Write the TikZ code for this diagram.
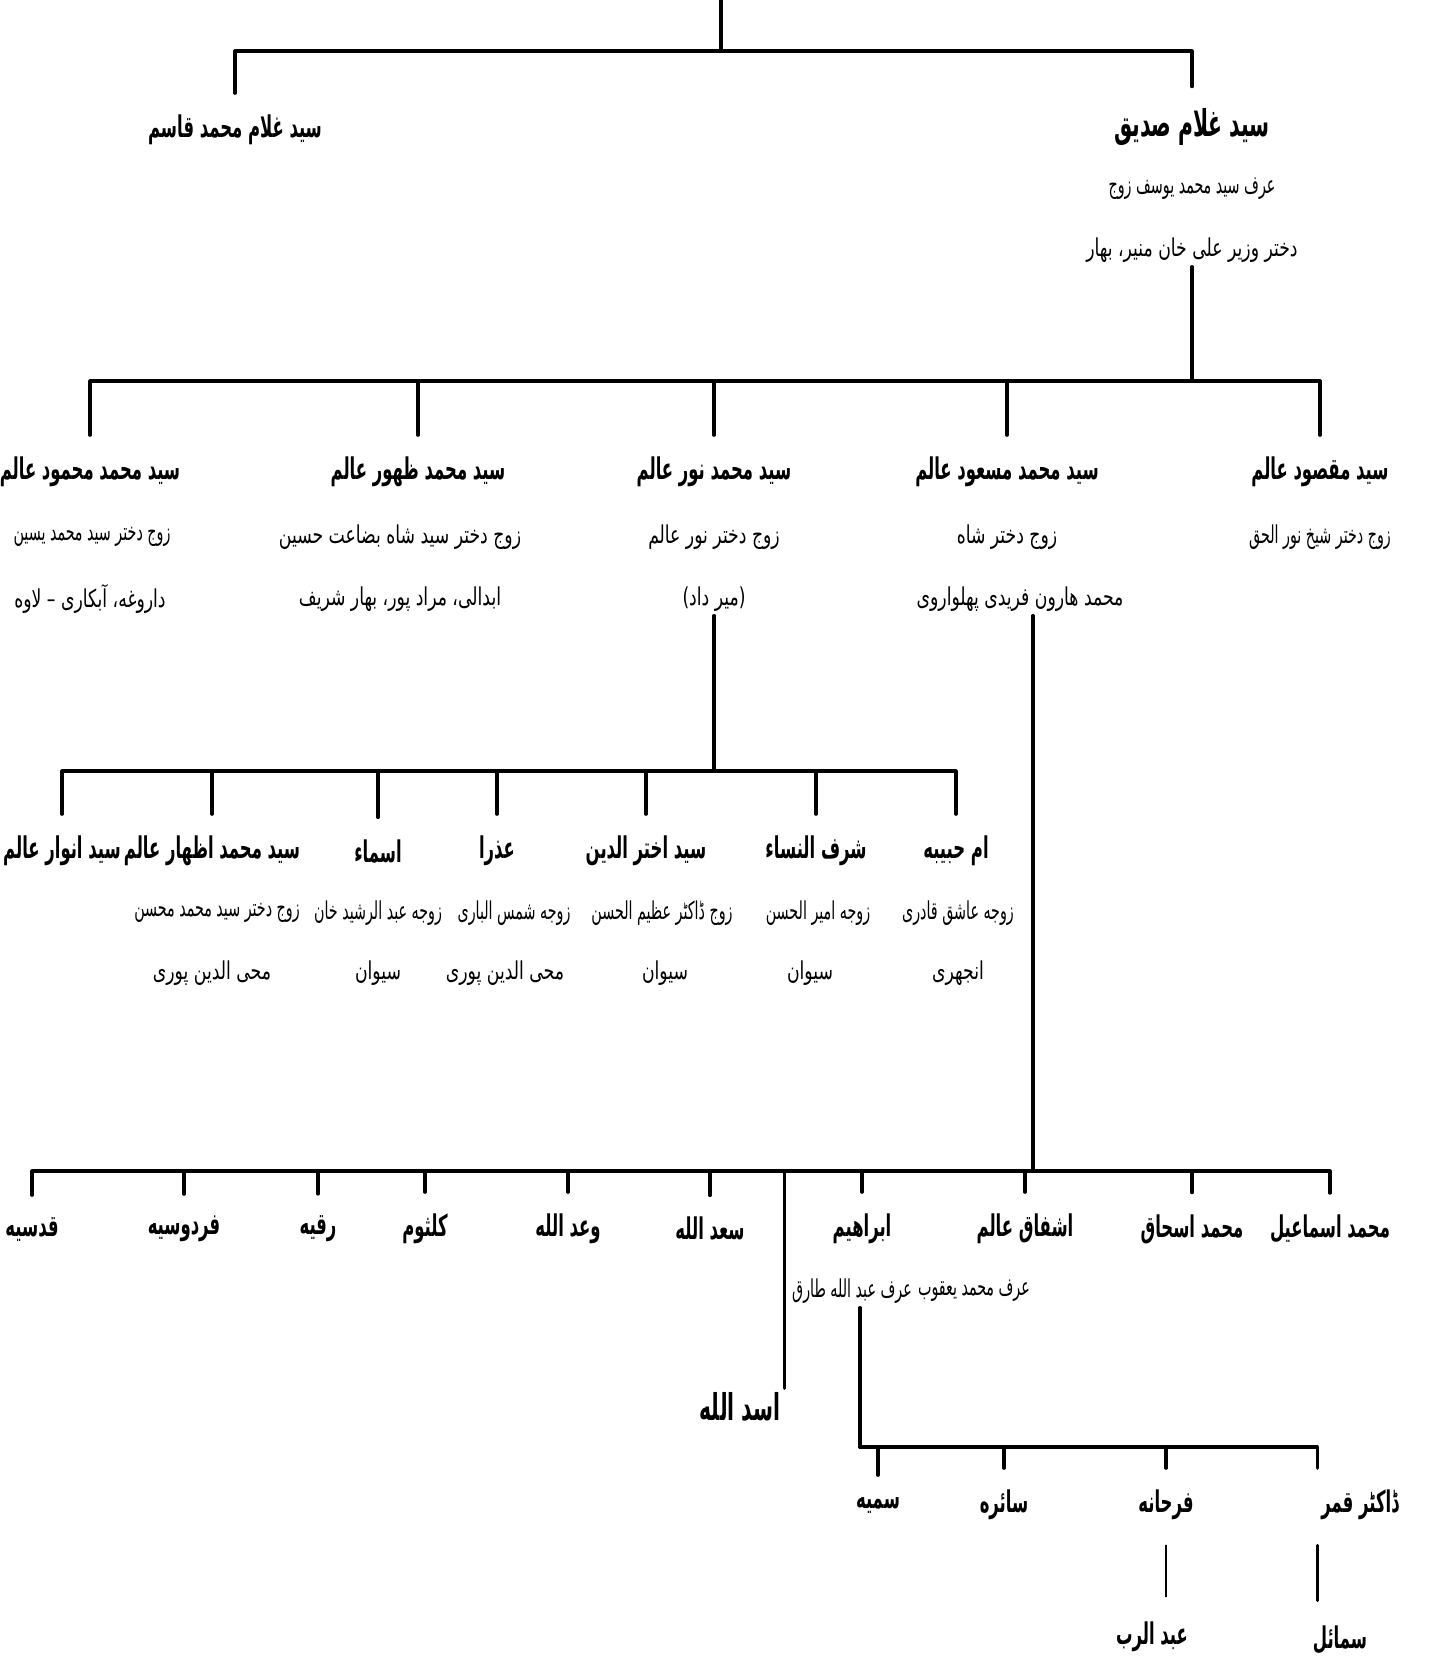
\documentclass[tikz,border=0pt]{standalone}
\usepackage{fontspec}
\usepackage{graphicx}
\newfontfamily\arabicfont[Script=Arabic]{DejaVu Sans}
\TeXXeTstate=1
\newcommand{\ur}[1]{\scalebox{0.7}[1]{\arabicfont\beginR #1\endR}}
\newcommand{\ut}[1]{\scalebox{0.58}[1]{\arabicfont\beginR #1\endR}}
\newcommand{\nm}[1]{\scalebox{0.55}[1]{\arabicfont\beginR #1\endR}}

\begin{document}
\begin{tikzpicture}[x=0.01cm,y=-0.01cm, line join=round, line cap=round,
  person/.style={inner sep=1pt, font=\fontsize{8.5}{10}\selectfont\bfseries},
  chief/.style={inner sep=1pt, font=\fontsize{10.5}{12}\selectfont\bfseries},
  info/.style={inner sep=1pt, font=\fontsize{7}{8}\selectfont},
  tree/.style={line width=0.9pt},
  kin/.style={tree, shorten >=5pt}]
\useasboundingbox (0,0) rectangle (1438,1662);
% generation 1
\node[person] (qasim) at (235,130) {\nm{سید غلام محمد قاسم}};
\node[chief] (siddiq) at (1192,127) {\nm{سید غلام صدیق}};
\node[info] (siddiq2) at (1192,189) {\ut{عرف سید محمد یوسف زوج}};
\node[info] (siddiq3) at (1192,250) {\ur{دختر وزیر علی خان منیر، بهار}};
\coordinate (root) at (721,0);
\coordinate (j0) at (721,51);
\draw[tree] (root) -- (j0);
\foreach \c in {qasim,siddiq} \draw[kin] (j0) -| (\c.north);
% generation 2
\node[person] (mahmood) at (90,472) {\nm{سید محمد محمود عالم}};
\node[info] (mahmood2) at (92,537) {\ut{زوج دختر سید محمد یسین}};
\node[info] (mahmood3) at (90,599) {\ur{داروغه، آبکاری – لاوه}};
\node[person] (zahoor) at (418,472) {\nm{سید محمد ظهور عالم}};
\node[info] (zahoor2) at (400,537) {\ur{زوج دختر سید شاه بضاعت حسین}};
\node[info] (zahoor3) at (400,599) {\ur{ابدالی، مراد پور، بهار شریف}};
\node[person] (noor) at (714,472) {\nm{سید محمد نور عالم}};
\node[info] (noor2) at (714,537) {\ur{زوج دختر نور عالم}};
\node[info] (noor3) at (714,599) {\ur{(میر داد)}};
\node[person] (masood) at (1007,472) {\nm{سید محمد مسعود عالم}};
\node[info] (masood2) at (1007,537) {\ur{زوج دختر شاه}};
\node[info] (masood3) at (1020,599) {\ur{محمد هارون فریدی پھلواروی}};
\node[person] (maqsood) at (1320,472) {\nm{سید مقصود عالم}};
\node[info] (maqsood2) at (1320,537) {\ut{زوج دختر شیخ نور الحق}};
\coordinate (j1) at (1192,381);
\draw[tree] (siddiq3.south) -- (j1);
\foreach \c in {mahmood,zahoor,noor,masood,maqsood} \draw[kin] (j1) -| (\c.north);
% generation 3
\node[person] (umm) at (956,851) {\nm{ام حبیبه}};
\node[info] (umm2) at (958,913) {\ut{زوجه عاشق قادری}};
\node[info] (umm3) at (958,973) {\ur{انجهری}};
\node[person] (sharf) at (816,851) {\nm{شرف النساء}};
\node[info] (sharf2) at (818,913) {\ut{زوجه امیر الحسن}};
\node[info] (sharf3) at (810,973) {\ur{سیوان}};
\node[person] (akhtar) at (646,851) {\nm{سید اختر الدین}};
\node[info] (akhtar2) at (662,913) {\ut{زوج ڈاکٹر عظیم الحسن}};
\node[info] (akhtar3) at (665,973) {\ur{سیوان}};
\node[person] (azra) at (497,851) {\nm{عذرا}};
\node[info] (azra2) at (514,913) {\ut{زوجه شمس الباری}};
\node[info] (azra3) at (505,973) {\ur{محی الدین پوری}};
\node[person] (asma) at (378,851) {\nm{اسماء}};
\node[info] (asma2) at (378,913) {\ut{زوجه عبد الرشید خان}};
\node[info] (asma3) at (378,973) {\ur{سیوان}};
\node[person] (izhar) at (212,851) {\nm{سید محمد اظهار عالم}};
\node[info] (izhar2) at (217,913) {\ut{زوج دختر سید محمد محسن}};
\node[info] (izhar3) at (212,973) {\ur{محی الدین پوری}};
\node[person] (anwar) at (62,851) {\nm{سید انوار عالم}};
\coordinate (j2) at (714,771);
\draw[tree] (noor3.south) -- (j2);
\foreach \c in {umm,sharf,akhtar,azra,asma,izhar,anwar} \draw[kin] (j2) -| (\c.north);
% generation 4
\node[person] (qudsia) at (32,1229) {\nm{قدسیه}};
\node[person] (firdausia) at (184,1229) {\nm{فردوسیه}};
\node[person] (ruqayya) at (318,1229) {\nm{رقیه}};
\node[person] (kulsoom) at (425,1229) {\nm{کلثوم}};
\node[person] (waad) at (568,1229) {\nm{وعد الله}};
\node[person] (saad) at (710,1229) {\nm{سعد الله}};
\node[person] (ibrahim) at (862,1229) {\nm{ابراهیم}};
\node[info] (ibrahim2) at (852,1291) {\ut{عرف عبد الله طارق}};
\node[person] (ishfaq) at (1025,1229) {\nm{اشفاق عالم}};
\node[info] (ishfaq2) at (974,1291) {\ut{عرف محمد یعقوب}};
\node[person] (ishaq) at (1192,1229) {\nm{محمد اسحاق}};
\node[person] (ismail) at (1330,1229) {\nm{محمد اسماعیل}};
\node[chief] (asad) at (740,1407) {\nm{اسد الله}};
\coordinate (j3) at (1033,1171);
\draw[tree] (masood3.south -| j3) -- (j3);
\foreach \c in {qudsia,firdausia,ruqayya,kulsoom,waad,saad,ibrahim,ishfaq,ishaq,ismail} \draw[kin] (j3) -| (\c.north);
\draw[tree] (asad.north east |- j3) -- (asad.north east);
% generation 5
\node[person] (sumayya) at (878,1505) {\nm{سمیه}};
\node[person] (saira) at (1004,1505) {\nm{سائره}};
\node[person] (farhana) at (1166,1505) {\nm{فرحانه}};
\node[person] (qamar) at (1360,1505) {\nm{ڈاکٹر قمر}};
\coordinate (j4) at (860,1447);
\draw[tree] (j4 |- ibrahim2.south) -- (j4);
\foreach \c in {sumayya,saira,farhana} \draw[kin] (j4) -| (\c.north);
\draw[kin] (j4) -| (qamar.north west);
% generation 6
\node[person] (abdulrab) at (1152,1637) {\nm{عبد الرب}};
\node[person] (sumail) at (1340,1640) {\nm{سمائل}};
\draw[thin, shorten <=6pt, shorten >=6pt] (farhana.south) -- (farhana.south |- abdulrab.north);
\draw[tree, shorten <=6pt, shorten >=6pt] (qamar.south west) -- (qamar.south west |- sumail.north);
\end{tikzpicture}
\end{document}
